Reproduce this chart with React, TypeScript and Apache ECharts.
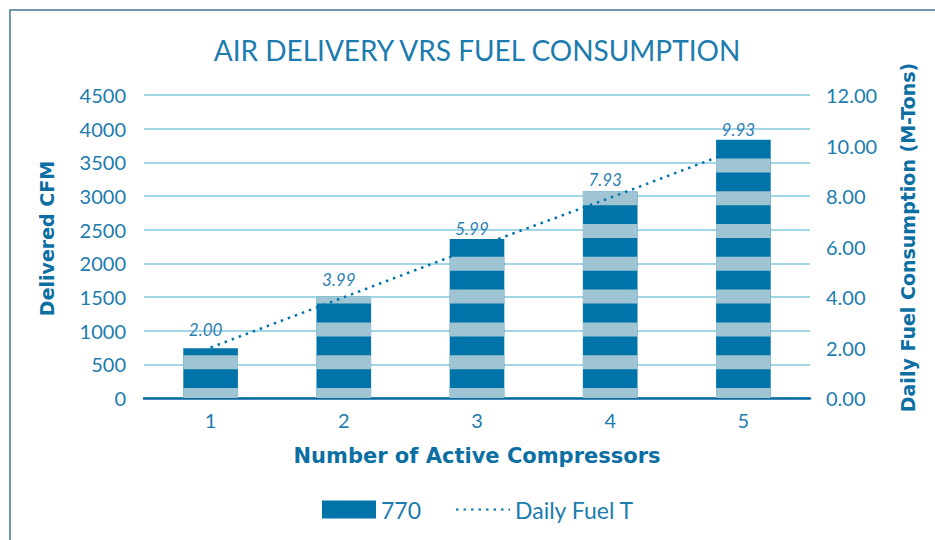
import React, { useEffect, useRef } from "react";
import * as echarts from "echarts";

const categories = ["1", "2", "3", "4", "5"];
const cfmValues = [740, 1505, 2360, 3065, 3835];
const fuelValues = [2.0, 3.99, 5.99, 7.93, 9.93];
const barSeriesName = "770";
const lineSeriesName = "Daily Fuel T";

const DARK = "#0074a9";
const LIGHT = "#9fc5d4";
const TEXT = "#1c7cae";
const NAME = "#0c6fa3";
const GRID = "#86c8dd";

export default function App() {
  const ref = useRef<HTMLDivElement>(null);
  useEffect(() => {
    document.body.style.margin = "0";
    const chart = echarts.init(ref.current!, null, { renderer: "svg" });
    const P = 32.8;
    chart.setOption({
      animation: false,
      backgroundColor: "#ffffff",
      textStyle: { fontFamily: "Lato" },
      graphic: [
        {
          type: "rect",
          shape: { x: 10, y: 10, width: 960, height: 560 },
          style: { fill: "none", stroke: "#3f7892", lineWidth: 1.5 },
          silent: true,
        },
        {
          type: "text",
          x: 477,
          y: 50,
          style: {
            text: "AIR DELIVERY VRS FUEL CONSUMPTION",
            fill: TEXT,
            font: "28px Lato",
            textAlign: "center",
            textVerticalAlign: "middle",
          },
        },
      ],
      legend: {
        left: 317,
        top: 493,
        itemWidth: 54,
        itemHeight: 18,
        itemGap: 34,
        textStyle: { color: TEXT, fontSize: 23, fontFamily: "Lato", padding: [0, 0, 0, 0] },
        data: [
          { name: barSeriesName, icon: "rect" },
          { name: lineSeriesName },
        ],
      },
      grid: { left: 144, right: 125, top: 95, bottom: 142 },
      xAxis: {
        type: "category",
        data: categories,
        name: "Number of Active Compressors",
        nameLocation: "middle",
        nameGap: 47,
        nameTextStyle: { color: NAME, fontSize: 21, fontWeight: "bold", fontFamily: "DejaVu Sans" },
        axisLine: { lineStyle: { color: "#0a6aa0", width: 2.5 } },
        axisTick: { show: false },
        axisLabel: { color: TEXT, fontSize: 20, margin: 12 },
      },
      yAxis: [
        {
          type: "value",
          min: 0,
          max: 4500,
          interval: 500,
          name: "Delivered CFM",
          nameLocation: "middle",
          nameRotate: 90,
          nameGap: 88,
          nameTextStyle: {
            color: NAME,
            fontSize: 19,
            fontWeight: "bold",
            fontFamily: "DejaVu Sans",
            padding: [0, 0, 0, 16],
          },
          axisLine: { show: false },
          axisTick: { show: false },
          axisLabel: { color: TEXT, fontSize: 20, margin: 18, formatter: (v: number) => String(v) },
          splitLine: { lineStyle: { color: GRID, width: 1.5 } },
        },
        {
          type: "value",
          min: 0,
          max: 12,
          interval: 2,
          name: "Daily Fuel Consumption (M-Tons)",
          nameLocation: "middle",
          nameRotate: 90,
          nameGap: 88,
          nameTextStyle: {
            color: NAME,
            fontSize: 19,
            fontWeight: "bold",
            fontFamily: "DejaVu Sans",
            padding: [0, 0, 0, 18],
          },
          axisLine: { show: false },
          axisTick: { show: false },
          axisLabel: {
            color: TEXT,
            fontSize: 20,
            margin: 16,
            formatter: (v: number) => v.toFixed(2),
          },
          splitLine: { show: false },
        },
      ],
      series: [
        {
          name: barSeriesName,
          type: "custom",
          xAxisIndex: 0,
          yAxisIndex: 0,
          itemStyle: { color: DARK },
          encode: { x: 0, y: 1 },
          data: cfmValues.map((v, i) => [i, v]),
          renderItem: (params: any, api: any) => {
            const idx = api.value(0);
            const v = api.value(1);
            const base = api.coord([idx, 0]);
            const top = api.coord([idx, v]);
            const bw = api.size([1, 0])[0] * 0.41;
            const x = base[0] - bw / 2;
            const children: any[] = [
              {
                type: "rect",
                shape: { x, y: top[1], width: bw, height: base[1] - top[1] },
                style: { fill: DARK },
              },
            ];
            for (let k = 0; k < 100; k++) {
              const lo = base[1] - (k * P + 10);
              const hi = base[1] - (k * P - 4);
              if (hi < top[1]) break;
              const y1 = Math.max(lo, top[1]);
              const y2 = Math.min(hi, base[1]);
              if (y2 > y1) {
                children.push({
                  type: "rect",
                  shape: { x, y: y1, width: bw, height: y2 - y1 },
                  style: { fill: LIGHT },
                });
              }
            }
            return { type: "group", children };
          },
          z: 2,
        },
        {
          name: lineSeriesName,
          type: "line",
          yAxisIndex: 1,
          data: fuelValues,
          symbol: "circle",
          symbolSize: 1,
          lineStyle: { color: DARK, width: 2.5, type: [2.5, 5] },
          itemStyle: { color: "rgba(0,0,0,0)", borderWidth: 0 },
          label: {
            show: true,
            position: "top",
            distance: 9,
            offset: [-5, 0],
            color: "#2a80b2",
            fontSize: 17,
            fontStyle: "italic",
            formatter: (p: any) => Number(p.value).toFixed(2),
          },
          z: 3,
        },
      ],
    });
    return () => chart.dispose();
  }, []);
  return <div ref={ref} style={{ width: 935, height: 540 }} />;
}
